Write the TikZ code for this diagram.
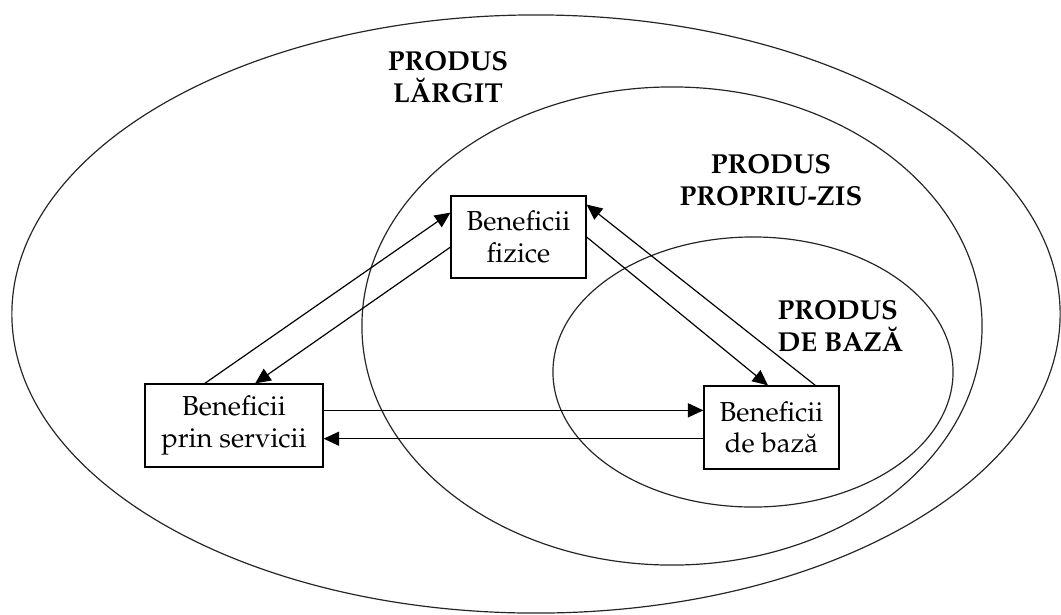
\documentclass[tikz,border=0pt]{standalone}
\usepackage[T1]{fontenc}
\renewcommand{\rmdefault}{ppl}
\usetikzlibrary{arrows.meta,calc}
\begin{document}
\begin{tikzpicture}[x=0.025cm,y=-0.025cm,
  line width=0.85pt,
  ring/.style={draw=black!85},
  benbox/.style={draw, fill=white, rectangle, inner sep=0pt, align=center,
    font=\fontsize{19.5}{22.5}\selectfont},
  zonelbl/.style={inner sep=0pt, font=\fontsize{19.5}{22.5}\selectfont\bfseries},
  link/.style={-{Triangle[length=11pt,width=10pt]}}]
\useasboundingbox (0,0) rectangle (1061,614);

% ellipses
\draw[ring] (536,314) ellipse [x radius=13.1cm, y radius=7.475cm];
\draw[ring] (672,326) ellipse [x radius=7.75cm, y radius=5.975cm];
\draw[ring] (753,372) ellipse [x radius=5cm, y radius=3.375cm];

% zone labels
\node[zonelbl, align=center] (l1) at (448,77) {PRODUS\\L\u{A}RGIT};
\node[zonelbl, align=center] (l2) at (771,180) {PRODUS\\PROPRIU-ZIS};
\node[zonelbl, align=left, anchor=west] (l3) at (777,326) {PRODUS\\DE BAZ\u{A}};

% boxes
\node[benbox, minimum width=3.375cm, minimum height=2.05cm] (fiz) at (518.5,237) {Beneficii\\fizice};
\node[benbox, minimum width=4.45cm, minimum height=2.075cm] (serv) at (234,425.5) {Beneficii\\prin servicii};
\node[benbox, minimum width=3.375cm, minimum height=2.075cm] (baza) at (771.5,427.5) {Beneficii\\de baz\u{a}};

% connectors
\draw[link] ($(serv.north west)!0.337!(serv.north east)$) -- ($(fiz.north west)!0.207!(fiz.south west)$);
\draw[link] ($(fiz.north west)!0.622!(fiz.south west)$) -- ($(serv.north west)!0.618!(serv.north east)$);
\draw[link] ($(fiz.north east)!0.5!(fiz.south east)$) -- ($(baza.north west)!0.474!(baza.north east)$);
\draw[link] ($(baza.north west)!0.822!(baza.north east)$) -- ($(fiz.north east)!0.11!(fiz.south east)$);
\coordinate (h1) at ($(serv.north east)!0.32!(serv.south east)$);
\draw[link] (h1) -- (h1 -| baza.west);
\coordinate (h2) at ($(baza.north west)!0.633!(baza.south west)$);
\draw[link] (h2) -- (h2 -| serv.east);
\end{tikzpicture}
\end{document}
